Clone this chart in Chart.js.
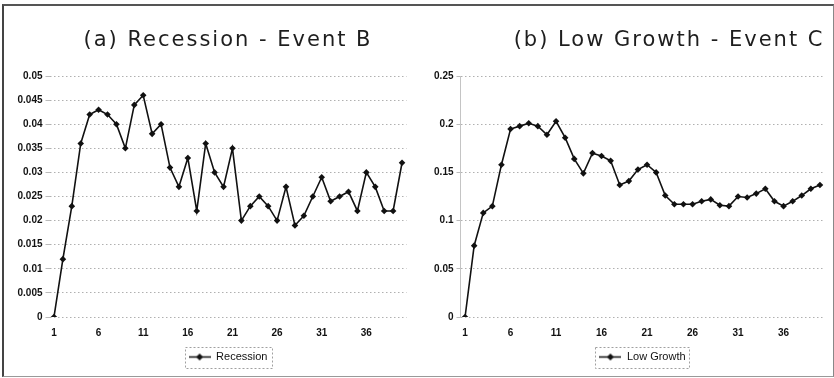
<!DOCTYPE html>
<html>
<head>
<meta charset="utf-8">
<script src="https://cdn.jsdelivr.net/npm/chart.js@4.4.1/dist/chart.umd.min.js"></script>
<style>
  html, body { margin: 0; padding: 0; background: #fff; overflow: hidden; }
  body { width: 834px; height: 378px; position: relative; }
  .frame {
    position: absolute; left: 2px; top: 4px; width: 832px; height: 373px;
    box-sizing: border-box;
    border-left: 2px solid #444; border-top: 2px solid #555;
    border-right: 1px solid #888; border-bottom: 1px solid #999;
  }
  .panel { position: absolute; top: 0; height: 378px; }
  #left { left: 0; width: 420px; }
  #right { left: 420px; width: 414px; }
</style>
</head>
<body>
<div class="frame"></div>
<div class="panel" id="left"><canvas id="recessionChart"></canvas></div>
<div class="panel" id="right"><canvas id="growthChart"></canvas></div>
<script>
// periods after the shock
const periods = ['1','2','3','4','5','6','7','8','9','10','11','12','13','14','15','16','17','18','19','20',
  '21','22','23','24','25','26','27','28','29','30','31','32','33','34','35','36','37','38','39','40'];

// (a) Recession - Event B
const recession = [0, 0.012, 0.023, 0.036, 0.042, 0.043, 0.042, 0.040, 0.035, 0.044,
  0.046, 0.038, 0.040, 0.031, 0.027, 0.033, 0.022, 0.036, 0.030, 0.027,
  0.035, 0.020, 0.023, 0.025, 0.023, 0.020, 0.027, 0.019, 0.021, 0.025,
  0.029, 0.024, 0.025, 0.026, 0.022, 0.030, 0.027, 0.022, 0.022, 0.032];

// (b) Low Growth - Event C
const lowGrowth = [0, 0.074, 0.108, 0.115, 0.158, 0.195, 0.198, 0.201, 0.198, 0.189,
  0.203, 0.186, 0.164, 0.149, 0.170, 0.167, 0.162, 0.137, 0.141, 0.153,
  0.158, 0.150, 0.126, 0.117, 0.117, 0.117, 0.120, 0.122, 0.116, 0.115,
  0.125, 0.124, 0.128, 0.133, 0.120, 0.115, 0.120, 0.126, 0.133, 0.137];

const recessionTicks = { max: 0.05, step: 0.005 };
const growthTicks = { max: 0.25, step: 0.05 };

// line with a diamond, used as the legend sample
function makeLegendMark() {
  const c = document.createElement('canvas');
  c.width = 22;
  c.height = 9;
  const g = c.getContext('2d');
  g.strokeStyle = '#111';
  g.lineWidth = 1.5;
  g.beginPath();
  g.moveTo(0, 4.5);
  g.lineTo(22, 4.5);
  g.stroke();
  g.fillStyle = '#111';
  g.beginPath();
  g.moveTo(11, 1);
  g.lineTo(14.5, 4.5);
  g.lineTo(11, 8);
  g.lineTo(7.5, 4.5);
  g.closePath();
  g.fill();
  return c;
}

// dashed frame round the legend item
const legendFrame = {
  id: 'legendFrame',
  afterDraw(chart) {
    const box = chart.legend && chart.legend.legendHitBoxes[0];
    if (!box) return;
    const ctx = chart.ctx;
    ctx.save();
    ctx.strokeStyle = '#a0a0a0';
    ctx.lineWidth = 1;
    ctx.setLineDash([2, 2]);
    ctx.strokeRect(Math.round(box.left - 4) + 0.5, Math.round(box.top - 5) + 0.5,
      Math.round(box.width + 8), Math.round(box.height + 10));
    ctx.restore();
  }
};

// the scanned titles use a wide face: space the letters out a little
const wideTitle = {
  id: 'wideTitle',
  beforeDraw(chart) {
    const t = chart.titleBlock;
    if (!t || t._spaced) return;
    const draw = t.draw.bind(t);
    t.draw = (area) => {
      chart.ctx.save();
      chart.ctx.letterSpacing = '2px';
      draw(area);
      chart.ctx.restore();
    };
    t._spaced = true;
  }
};

function buildChart(id, cfg) {
  const ctx = document.getElementById(id);
  if (!ctx) return null;
  return new Chart(ctx, {
    type: 'line',
    data: {
      labels: periods,
      datasets: [{
        label: cfg.name,
        data: cfg.values,
        borderColor: '#111',
        backgroundColor: '#111',
        borderWidth: 1.6,
        pointStyle: 'rectRot',
        pointRadius: 3.3,
        pointBorderWidth: 0,
        tension: 0
      }]
    },
    options: {
      responsive: true,
      maintainAspectRatio: false,
      animation: false,
      layout: { padding: { top: 28, bottom: 5.5, left: cfg.padLeft, right: cfg.padRight } },
      plugins: {
        title: {
          display: true,
          text: cfg.title,
          align: cfg.titleAlign,
          fullSize: false,
          color: '#1e1e1e',
          font: { family: 'DejaVu Sans', size: 21, weight: 'normal', lineHeight: 1.2 },
          padding: { top: 0, bottom: 22.8 }
        },
        legend: {
          position: 'bottom',
          fullSize: false,
          labels: {
            usePointStyle: true,
            pointStyle: makeLegendMark(),
            pointStyleWidth: 22,
            padding: 2.5,
            color: '#111',
            font: { family: 'Liberation Sans', size: 11 }
          }
        },
        tooltip: { enabled: false }
      },
      scales: {
        x: {
          offset: true,
          grid: { display: false, drawTicks: false },
          border: { display: false },
          ticks: {
            autoSkip: false,
            maxRotation: 0,
            padding: 10,
            color: '#111',
            font: { family: 'Liberation Sans', size: 10, weight: 'bold' },
            callback: (val, i) => (i % 5 === 0 ? periods[i] : '')
          }
        },
        y: {
          min: 0,
          max: cfg.ticks.max,
          afterFit: (scale) => { scale.width = cfg.axisWidth; },
          grid: {
            color: '#b0b0b0',
            lineWidth: 1,
            tickLength: 4,
            tickColor: '#bbb'
          },
          border: { display: cfg.showAxis, color: '#c4c4c4', dash: [1.5, 2.5] },
          ticks: {
            stepSize: cfg.ticks.step,
            padding: 3,
            color: '#111',
            font: { family: 'Liberation Sans', size: 10, weight: 'bold' },
            callback: (v) => String(+Number(v).toFixed(3))
          }
        }
      }
    },
    plugins: [legendFrame, wideTitle]
  });
}

document.addEventListener('DOMContentLoaded', () => {
  buildChart('recessionChart', {
    name: 'Recession',
    title: '(a) Recession - Event B',
    titleAlign: 'center',
    values: recession,
    ticks: recessionTicks,
    padLeft: 6,
    padRight: 13.5,
    axisWidth: 43.5,
    showAxis: false
  });
  buildChart('growthChart', {
    name: 'Low Growth',
    title: '(b) Low Growth - Event C',
    titleAlign: 'end',
    values: lowGrowth,
    ticks: growthTicks,
    padLeft: 4,
    padRight: 9.5,
    axisWidth: 36.5,
    showAxis: true
  });
});
</script>
</body>
</html>
